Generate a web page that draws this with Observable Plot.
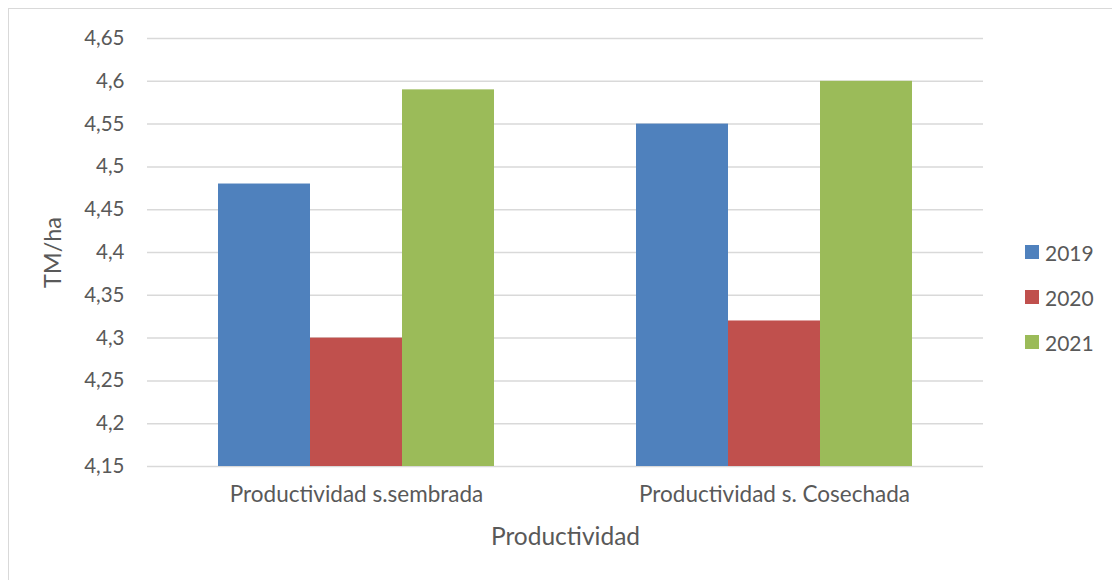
<!DOCTYPE html>
<html>
<head>
<meta charset="utf-8">
<script src="https://cdn.jsdelivr.net/npm/d3@7"></script>
<script src="https://cdn.jsdelivr.net/npm/@observablehq/plot@0.6"></script>
<style>
  html, body { margin: 0; padding: 0; background: #fff; }
  #wrap { position: relative; width: 1112px; height: 580px; overflow: hidden; background: #fff; font-family: Lato, "Open Sans", sans-serif; }
  #frame { position: absolute; left: 8px; top: 8px; width: 1200px; height: 700px; border-left: 1.5px solid #d9d9d9; border-top: 1.5px solid #d9d9d9; }
  #chart { position: absolute; left: 0; top: 0; }
  .leg { position: absolute; left: 1025px; display: flex; align-items: center; font-size: 21px; color: #595959; }
  .leg span.sw { width: 14px; height: 14px; display: inline-block; margin-right: 6px; }
</style>
</head>
<body>
<div id="wrap">
  <div id="frame"></div>
  <div id="chart"></div>
  <div id="legend"></div>
</div>
<script>
const categories = ["Productividad s.sembrada", "Productividad s. Cosechada"];
const years = ["2019", "2020", "2021"];
const values2019 = [4.48, 4.55];
const values2020 = [4.30, 4.32];
const values2021 = [4.59, 4.60];
const colors = ["#4F81BD", "#C0504D", "#9BBB59"];
const yTicks = [4.15, 4.2, 4.25, 4.3, 4.35, 4.4, 4.45, 4.5, 4.55, 4.6, 4.65];

const series = [values2019, values2020, values2021];
const data = [];
categories.forEach((c, i) => years.forEach((y, j) => data.push({cat: c, year: y, value: series[j][i]})));

const yMin = yTicks[0], yMax = yTicks[yTicks.length - 1];
const fmt = v => String(+v.toFixed(2)).replace(".", ",");
const textColor = "#595959";

const chart = Plot.plot({
  width: 1112,
  height: 580,
  marginLeft: 147,
  marginRight: 129,
  marginTop: 38,
  marginBottom: 114,
  style: { fontFamily: "Lato, 'Open Sans', sans-serif", color: textColor, background: "transparent" },
  fx: { domain: categories, padding: 0 },
  x: { domain: years, paddingInner: 0, paddingOuter: 0.75, axis: null },
  y: { domain: [yMin, yMax] },
  color: { domain: years, range: colors },
  marks: [
    Plot.gridY(yTicks, { stroke: "#d9d9d9", strokeOpacity: 1, strokeWidth: 1.5 }),
    Plot.barY(data, { fx: "cat", x: "year", y1: yMin, y2: "value", fill: "year", inset: 0 }),
    Plot.axisY(yTicks, { tickSize: 0, tickPadding: 23, tickFormat: fmt, fontSize: 20.5, fill: textColor,
      label: "TM/ha", labelAnchor: "center", labelArrow: "none", labelOffset: 103 }),
    Plot.axisFx({ anchor: "bottom", tickSize: 0, tickPadding: 20, fontSize: 22.5, fill: textColor,
      label: "Productividad", labelAnchor: "center", labelArrow: "none", labelOffset: 78 })
  ]
});
document.getElementById("chart").appendChild(chart);

chart.querySelectorAll("g[aria-label='y-axis label'] text").forEach(t => t.setAttribute("font-size", 23.5));
chart.querySelectorAll("g[aria-label='fx-axis label'] text").forEach(t => t.setAttribute("font-size", 24.5));

const legend = document.getElementById("legend");
const legY = [252, 297, 342];
years.forEach((y, i) => {
  const d = document.createElement("div");
  d.className = "leg";
  d.style.top = (legY[i] - 13) + "px";
  d.style.height = "26px";
  d.innerHTML = `<span class="sw" style="background:${colors[i]}"></span><span>${y}</span>`;
  legend.appendChild(d);
});
</script>
</body>
</html>
